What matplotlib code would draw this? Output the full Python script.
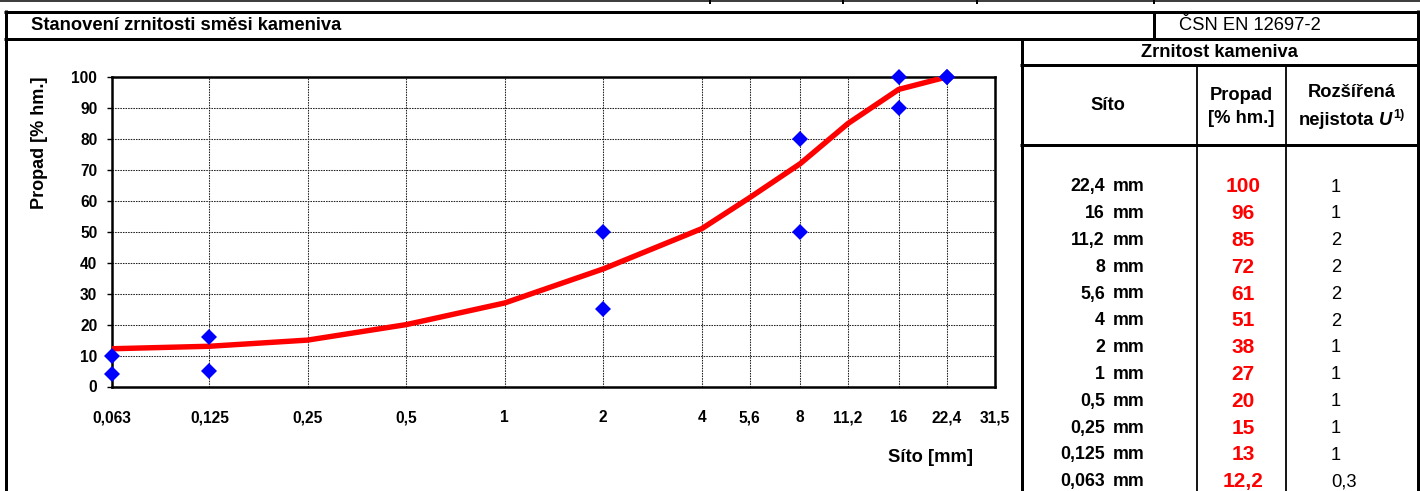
import matplotlib
matplotlib.use('Agg')
import matplotlib.pyplot as plt
from matplotlib.ticker import NullLocator

plt.rcParams['font.family'] = ['Liberation Sans', 'DejaVu Sans']

# Sieve sizes [mm] and the measured passing [% by mass]
sieve_sizes = [0.063, 0.125, 0.25, 0.5, 1, 2, 4, 5.6, 8, 11.2, 16, 22.4]
sieve_labels = ['0,063', '0,125', '0,25', '0,5', '1', '2', '4', '5,6', '8', '11,2', '16', '22,4']
passing = [12.2, 13, 15, 20, 27, 38, 51, 61, 72, 85, 96, 100]
uncertainty = ['0,3', '1', '1', '1', '1', '1', '2', '2', '2', '2', '1', '1']

# Axis ticks include the top sieve 31,5 mm
axis_ticks = sieve_sizes + [31.5]
axis_tick_labels = sieve_labels + ['31,5']

# Grading envelope limits (lower / upper) at selected sieves
limit_sizes = [0.063, 0.063, 0.125, 0.125, 2, 2, 8, 8, 16, 16, 22.4, 22.4]
limit_values = [4, 10, 5, 16, 25, 50, 50, 80, 90, 100, 100, 100]

W, H = 1420, 491
fig = plt.figure(figsize=(W / 100, H / 100), dpi=100)

# Pixel-space layer for the form frame and the table
bg = fig.add_axes([0, 0, 1, 1], zorder=0)
bg.set_xlim(0, W)
bg.set_ylim(H, 0)
bg.axis('off')


def px(v):
    return v * 0.72


def hline(y, x0, x1, w):
    bg.plot([x0, x1], [y, y], color='black', lw=px(w), solid_capstyle='butt')


def vline(x, y0, y1, w):
    bg.plot([x, x], [y0, y1], color='black', lw=px(w), solid_capstyle='butt')


# top rule of the previous form section
hline(1, 0, W, 1.5)
for xs in (710, 843, 977, 1154):
    vline(xs, 0, 4, 2)

# outer frame
hline(11.5, 4, 1419, 3)
vline(5.5, 10, H, 3)
vline(1417.5, 10, H, 3)
hline(38.5, 4, 1419, 3)
vline(1153.5, 11.5, 38.5, 3)

# table frame
vline(1021.5, 38.5, H, 3)
hline(65, 1020, 1419, 3)
hline(144.5, 1020, 1419, 3)
vline(1197, 65, H, 1.8)
vline(1286, 65, H, 1.8)

bold = dict(fontweight='bold', color='black')

bg.text(31, 25, 'Stanovení zrnitosti směsi kameniva', fontsize=13.2, ha='left',
        va='center', **bold)
bg.text(1250, 25, 'ČSN EN 12697-2', fontsize=13.2, ha='center', va='center')
bg.text(1219, 52, 'Zrnitost kameniva', fontsize=13.2, ha='center', va='center', **bold)

bg.text(1108, 110, 'Síto', fontsize=13.2, ha='center', va='baseline', **bold)
bg.text(1241, 100, 'Propad', fontsize=13.2, ha='center', va='baseline', **bold)
bg.text(1241, 123, '[% hm.]', fontsize=13.2, ha='center', va='baseline', **bold)
bg.text(1352, 97, 'Rozšířená', fontsize=13.2, ha='center', va='baseline', **bold)

# "nejistota U^1)" assembled from parts
renderer = fig.canvas.get_renderer()
t1 = bg.text(0, 125, 'nejistota', fontsize=13.2, ha='left', va='baseline', **bold)
t2 = bg.text(0, 125, 'U', fontsize=13.2, ha='left', va='baseline', fontstyle='italic', **bold)
t3 = bg.text(0, 118, '1)', fontsize=9, ha='left', va='baseline', **bold)
w1 = t1.get_window_extent(renderer).width
w2 = t2.get_window_extent(renderer).width
w3 = t3.get_window_extent(renderer).width
gap = 5
x0 = 1352 - (w1 + gap + w2 + 1 + w3) / 2
t1.set_x(x0)
t2.set_x(x0 + w1 + gap)
t3.set_x(x0 + w1 + gap + w2 + 1)

# table rows, largest sieve first
row0, row_step = 185, 26.8
for i, (lab, val, unc) in enumerate(zip(sieve_labels[::-1], passing[::-1], uncertainty[::-1])):
    yc = row0 + i * row_step
    bg.text(1105, yc + 6.3, lab, fontsize=12.8, ha='right', va='baseline', **bold)
    bg.text(1113, yc + 6.3, 'mm', fontsize=12.8, ha='left', va='baseline', **bold)
    bg.text(1243, yc + 7.4, f'{val:g}'.replace('.', ','), fontsize=15, ha='center',
            va='baseline', fontweight='bold', color='#ff0000')
    bg.text(1331, yc + 6.6, unc, fontsize=13.2, ha='left', va='baseline', color='black')

# axis titles
bg.text(40, 143, 'Propad [% hm.]', fontsize=13, rotation=90, ha='center', va='center', **bold)
bg.text(930, 457, 'Síto [mm]', fontsize=13.2, ha='center', va='center', **bold)

# grading chart
ax = fig.add_axes([112 / W, 1 - 386.5 / H, (995 - 112) / W, (386.5 - 77) / H], zorder=2)
ax.set_xscale('log', base=2)
ax.set_xlim(0.063, 31.5)
ax.set_ylim(0, 100)
ax.plot(sieve_sizes, passing, color='#ff0000', lw=3.9, zorder=3, solid_joinstyle='round')
ax.plot(limit_sizes, limit_values, ls='none', marker='D', color='#0000ff', ms=8.2,
        mew=0, zorder=4, clip_on=False)
ax.set_xticks(axis_ticks)
ax.set_xticklabels(axis_tick_labels)
ax.xaxis.set_minor_locator(NullLocator())
ax.set_yticks(range(0, 101, 10))
ax.grid(True, ls=(0, (1.5, 1.0)), color='#222222', lw=0.75)
ax.tick_params(axis='x', length=0, pad=17, labelsize=11.2)
ax.tick_params(axis='y', length=3.6, width=1, pad=7, labelsize=11.2)
for lab in ax.get_xticklabels() + ax.get_yticklabels():
    lab.set_fontweight('bold')
for sp in ax.spines.values():
    sp.set_linewidth(1.8)

fig.savefig('out.png', dpi=100)
